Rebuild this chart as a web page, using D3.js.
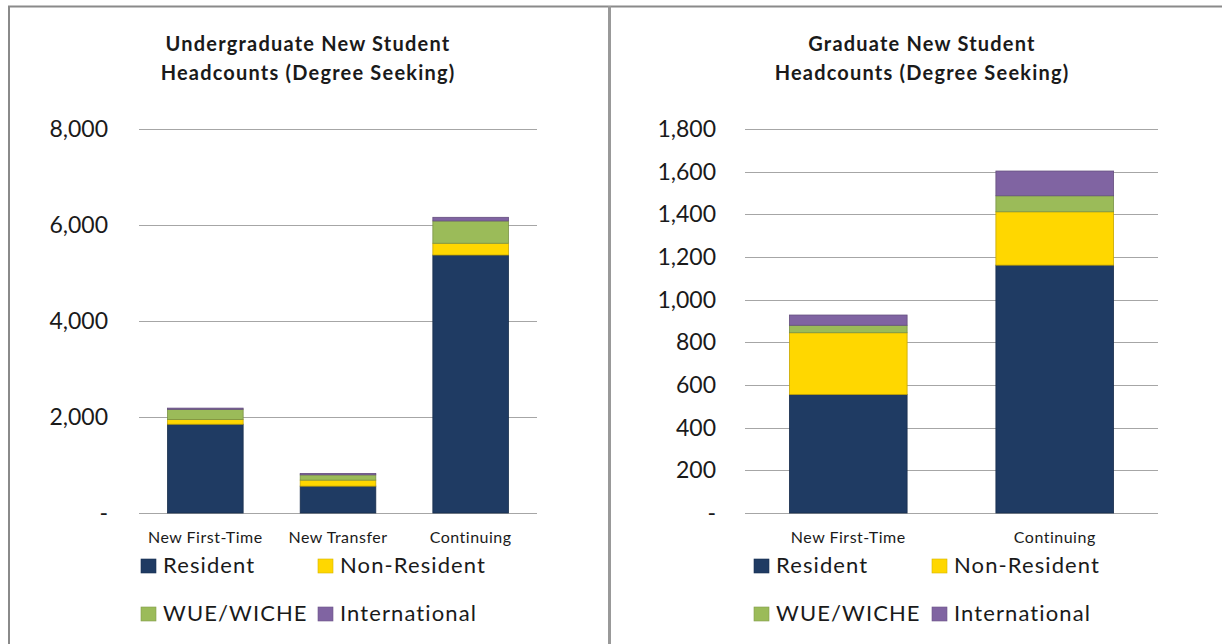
<!DOCTYPE html>
<html>
<head>
<meta charset="utf-8">
<script src="https://cdn.jsdelivr.net/npm/d3@7"></script>
<style>
  body { margin: 0; background: #fff; }
  svg text { font-family: Lato, "Open Sans", sans-serif; fill: #1a1a1a; }
</style>
</head>
<body>
<div id="root"></div>
<script>
// series names + colours
const seriesNames = ['Resident', 'Non-Resident', 'WUE/WICHE', 'International'];
const seriesColors = ['#1f3b63', '#ffd700', '#9bbb59', '#8064a2'];

// undergraduate panel
const ugCategories = ['New First-Time', 'New Transfer', 'Continuing'];
const ugResident = [1850, 560, 5375];
const ugNonResident = [100, 125, 245];
const ugWue = [210, 110, 465];
const ugIntl = [25, 30, 75];
const ugTicks = [0, 2000, 4000, 6000, 8000];

// graduate panel
const grCategories = ['New First-Time', 'Continuing'];
const grResident = [556, 1162];
const grNonResident = [289, 250];
const grWue = [35, 75];
const grIntl = [48, 116];
const grTicks = [0, 200, 400, 600, 800, 1000, 1200, 1400, 1600, 1800];

const W = 1222, H = 644;

const svg = d3.select('#root').append('svg')
    .attr('width', W)
    .attr('height', H);

// frame lines round the two panels
svg.append('line').attr('x1', 8).attr('x2', W).attr('y1', 6.5).attr('y2', 6.5)
    .attr('stroke', '#8a8a8a').attr('stroke-width', 2);
svg.append('line').attr('x1', 9).attr('x2', 9).attr('y1', 6).attr('y2', H)
    .attr('stroke', '#8a8a8a').attr('stroke-width', 2);
svg.append('line').attr('x1', 609.5).attr('x2', 609.5).attr('y1', 6).attr('y2', H)
    .attr('stroke', '#999').attr('stroke-width', 3);

// one stacked bar chart in a box
function StackedChart(opts) {
    const {x0, x1, y0, y1, title, categories, series, ticks, labelX, legend} = opts;

    const g = svg.append('g');

    // rows for d3.stack
    const rows = categories.map((c, i) => {
        const r = {cat: c};
        seriesNames.forEach((s, j) => r[s] = series[j][i]);
        return r;
    });
    const stacked = d3.stack().keys(seriesNames)(rows);

    const scaleX = d3.scaleBand()
        .domain(categories)
        .range([x0, x1])
        .paddingInner(0.43)
        .paddingOuter(0.215);

    const scaleY = d3.scaleLinear()
        .domain([0, ticks[ticks.length - 1]])
        .range([y1, y0]);

    // title, two lines
    g.selectAll('.title')
        .data(title)
        .enter()
        .append('text')
        .attr('class', 'title')
        .attr('x', opts.titleX)
        .attr('y', (d, i) => 51 + i * 29)
        .attr('text-anchor', 'middle')
        .style('font-weight', 'bold')
        .style('font-size', '20px')
        .style('letter-spacing', '1.2px')
        .text(d => d);

    // gridlines
    g.selectAll('.grid')
        .data(ticks)
        .enter()
        .append('line')
        .attr('x1', x0).attr('x2', x1)
        .attr('y1', d => Math.round(scaleY(d)) + 0.5)
        .attr('y2', d => Math.round(scaleY(d)) + 0.5)
        .attr('stroke', '#a6a6a6')
        .attr('stroke-width', 1.2);

    // tick labels
    const fmt = d3.format(',');
    g.selectAll('.tick-label')
        .data(ticks)
        .enter()
        .append('text')
        .attr('x', labelX)
        .attr('y', d => scaleY(d) + 8)
        .attr('text-anchor', 'end')
        .style('font-size', '23px')
        .text(d => d === 0 ? '-' : fmt(d));

    // bars
    const layers = g.selectAll('.layer')
        .data(stacked)
        .enter()
        .append('g')
        .attr('fill', (d, i) => seriesColors[i])
        .attr('stroke', (d, i) => d3.color(seriesColors[i]).darker(0.7))
        .attr('stroke-width', 0.8);

    layers.selectAll('rect')
        .data(d => d)
        .enter()
        .append('rect')
        .attr('x', d => scaleX(d.data.cat))
        .attr('width', scaleX.bandwidth())
        .attr('y', d => scaleY(d[1]))
        .attr('height', d => scaleY(d[0]) - scaleY(d[1]));

    // category labels
    g.selectAll('.cat')
        .data(categories)
        .enter()
        .append('text')
        .attr('x', d => scaleX(d) + scaleX.bandwidth() / 2)
        .attr('y', 543)
        .attr('text-anchor', 'middle')
        .style('font-size', '16px')
        .style('letter-spacing', '0.5px')
        .text(d => d);

    // legend, 2x2
    const items = g.selectAll('.legend')
        .data(seriesNames)
        .enter()
        .append('g')
        .attr('transform', (d, i) => `translate(${legend.xs[i % 2]},${legend.ys[Math.floor(i / 2)]})`);
    items.append('rect')
        .attr('width', 15).attr('height', 14)
        .attr('fill', (d, i) => seriesColors[i])
        .attr('stroke', (d, i) => d3.color(seriesColors[i]).darker(0.5))
        .attr('stroke-width', 0.6);
    items.append('text')
        .attr('x', 22)
        .attr('y', 14)
        .style('font-size', '22px')
        .style('letter-spacing', '1.1px')
        .text(d => d);
}

StackedChart({
    x0: 139, x1: 537, y0: 129, y1: 513,
    titleX: 308,
    title: ['Undergraduate New Student', 'Headcounts (Degree Seeking)'],
    categories: ugCategories,
    series: [ugResident, ugNonResident, ugWue, ugIntl],
    ticks: ugTicks,
    labelX: 108,
    legend: {xs: [141, 318], ys: [559, 607]}
});

StackedChart({
    x0: 745, x1: 1158, y0: 129, y1: 513,
    titleX: 922,
    title: ['Graduate New Student', 'Headcounts (Degree Seeking)'],
    categories: grCategories,
    series: [grResident, grNonResident, grWue, grIntl],
    ticks: grTicks,
    labelX: 716,
    legend: {xs: [754, 932], ys: [559, 607]}
});
</script>
</body>
</html>
